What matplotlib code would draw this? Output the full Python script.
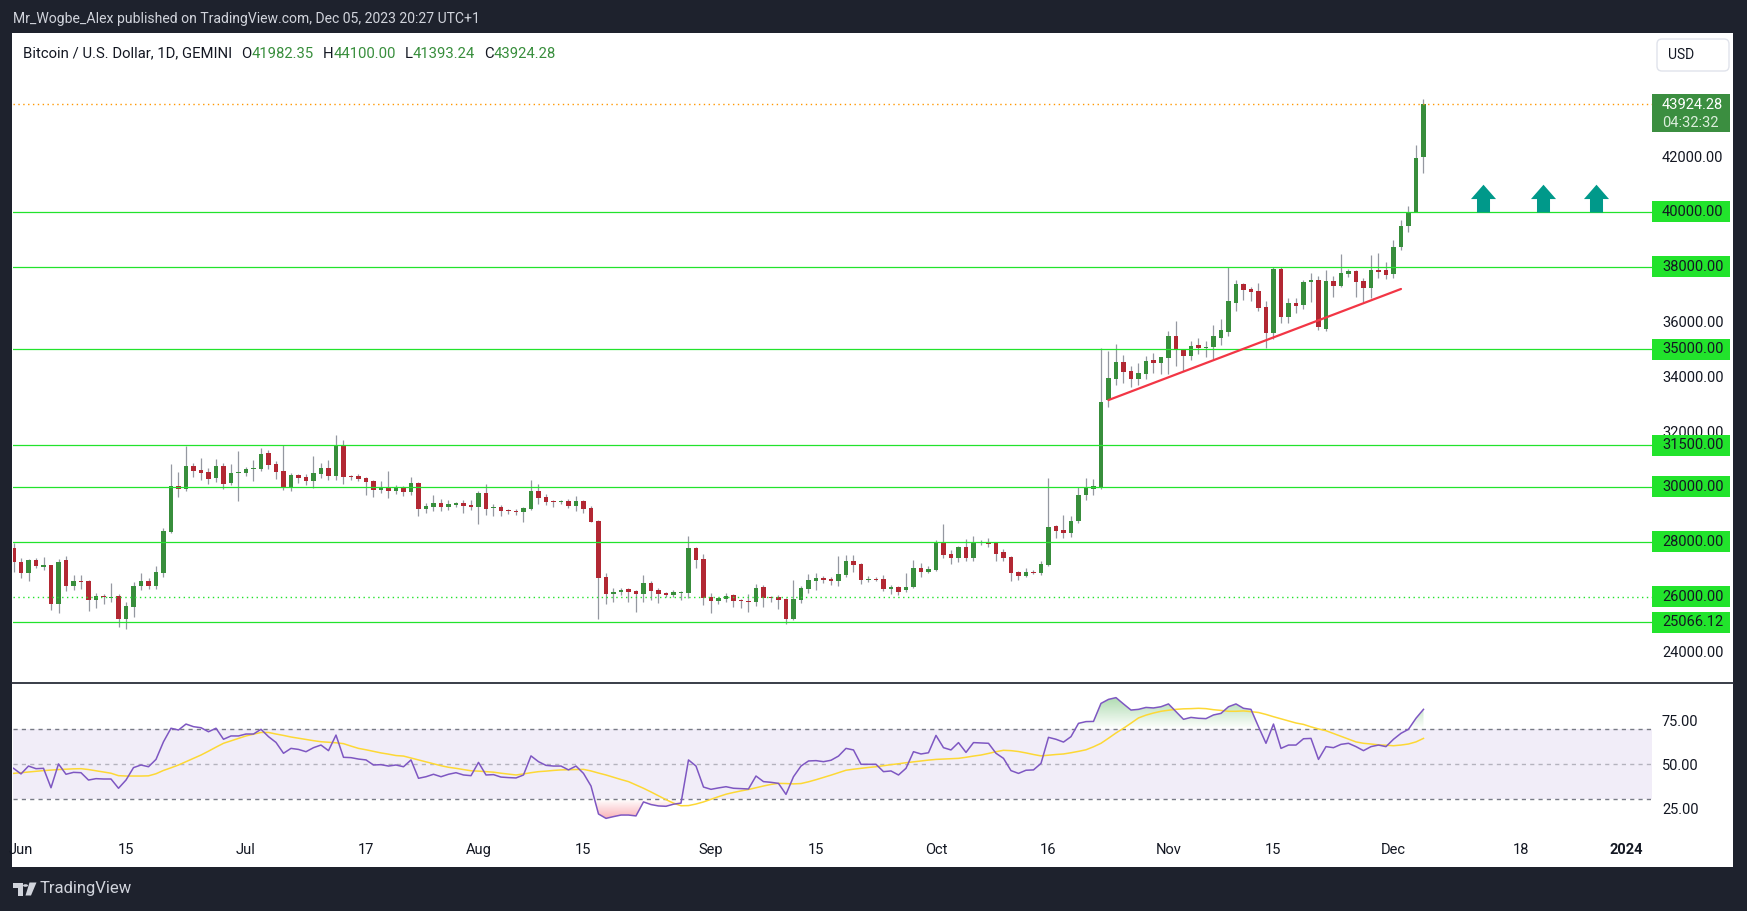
import numpy as np
import pandas as pd
import matplotlib
matplotlib.use("Agg")
import matplotlib.pyplot as plt
import matplotlib.dates as mdates
import matplotlib.transforms as mtransforms
from matplotlib.patches import Rectangle, FancyBboxPatch, Polygon, Circle
from matplotlib.path import Path
from matplotlib.lines import Line2D

plt.rcParams['font.family'] = ['Roboto', 'DejaVu Sans']

W, H = 1747, 911

# ---- data (daily candles, GEMINI BTCUSD, May 31 - Dec 5 2023) ----
dates = pd.date_range("2023-05-31", "2023-12-05", freq="D")

opens = [
    27770, 27270, 26870, 27330, 27110, 27160, 25750, 27330, 26385, 26570,
    26570, 25880, 26020, 25960, 26020, 25200, 25640, 26385, 26570, 26389,
    26873, 28364, 30036, 29915, 30752, 30606, 30533, 30303, 30752, 30133,
    30520, 30497, 30655, 30642, 31225, 30824, 30570, 29952, 30424, 30352,
    30206, 30460, 30680, 30388, 31515, 30388, 30388, 30315, 30206, 29879,
    29988, 29842, 29988, 29806, 30133, 29188, 29260, 29406, 29260, 29333,
    29406, 29333, 29260, 29770, 29224, 29260, 29150, 29115, 29079, 29188,
    29842, 29624, 29479, 29455, 29479, 29297, 29479, 29224, 28752, 26727,
    26109, 26182, 26279, 26206, 26109, 26509, 26242, 26145, 26073, 26145,
    26145, 27770, 27370, 25988, 25842, 25915, 26060, 25879, 25842, 25806,
    26352, 25988, 25988, 25915, 25188, 25879, 26279, 26570, 26679, 26642,
    26570, 26788, 27297, 27188, 26606, 26630, 26642, 26279, 26352, 26240,
    26352, 27043, 26897, 26970, 27988, 27552, 27406, 27806, 27406, 27988,
    27960, 27952, 27624, 27442, 26897, 26752, 26897, 26860, 27152, 28570,
    28424, 28315, 28752, 29697, 29915, 29990, 33153, 33917, 34535, 34210,
    33917, 34110, 34608, 34500, 34694, 35480, 34970, 34755, 35150, 35050,
    35090, 35420, 35640, 36695, 37375, 37180, 37120, 36537, 35580, 37920,
    36185, 36680, 36620, 37445, 37520, 35750, 37480, 37310, 37750, 37840,
    37480, 37240, 37860, 37880, 37750, 38730, 39490, 39980, 41982.35,
]
highs = [
    27940, 27390, 27360, 27420, 27460, 27160, 27370, 27480, 26800, 26780,
    26620, 26150, 26100, 26500, 26100, 25796, 26545, 26873, 26690, 27116,
    28485, 30825, 30533, 31479, 30873, 31040, 30690, 31000, 30870, 30840,
    31297, 30730, 30960, 31406, 31330, 30920, 31515, 30500, 30460, 30450,
    31115, 30850, 30980, 31879, 31700, 30420, 30450, 30350, 30250, 30200,
    30585, 30050, 30040, 30350, 30160, 29400, 29680, 29570, 29500, 29450,
    29500, 29500, 29850, 30097, 29370, 29340, 29180, 29190, 29270, 30242,
    30100, 29720, 29530, 29500, 29550, 29670, 29500, 29300, 28800, 26850,
    26300, 26300, 26300, 26250, 26800, 26560, 26300, 26180, 26250, 26220,
    28206, 27800, 27550, 26120, 25980, 26150, 26100, 25900, 26097, 26450,
    26420, 26030, 26050, 25940, 26606, 26380, 26830, 26870, 26760, 26700,
    27479, 27500, 27500, 27210, 26740, 26700, 26800, 26430, 26400, 26860,
    27333, 27230, 27100, 28050, 28642, 27700, 27850, 28100, 28200, 28050,
    28120, 27990, 27740, 27480, 26940, 27050, 26970, 27300, 30315, 28620,
    28980, 28920, 30000, 30300, 30280, 35033, 34936, 35189, 34800, 34400,
    34480, 34750, 34870, 34730, 35660, 36037, 35000, 35290, 35400, 35300,
    35880, 36100, 38000, 37500, 37420, 37250, 37400, 36750, 37980, 37980,
    36850, 36880, 37500, 37760, 37650, 37880, 37650, 38460, 37900, 37880,
    37590, 38424, 38500, 38180, 38970, 39700, 40200, 42425, 44100,
]
lows = [
    26910, 26690, 26580, 27030, 26960, 25530, 25420, 26200, 26230, 26270,
    25480, 25600, 25720, 25810, 24900, 24826, 25273, 26242, 26290, 26270,
    26727, 28300, 29612, 29830, 30352, 30260, 30090, 30180, 29920, 30050,
    29467, 30390, 30200, 30560, 30650, 30280, 29880, 29850, 30130, 30070,
    29950, 30300, 30240, 30250, 30100, 30250, 30200, 29698, 29624, 29760,
    29600, 29720, 29660, 29710, 28933, 29060, 29110, 29130, 29150, 29270,
    29050, 29150, 28642, 28980, 28950, 28930, 28990, 28960, 28720, 29150,
    29380, 29330, 29260, 29370, 29220, 29120, 29050, 28700, 25200, 25727,
    25800, 26050, 25820, 25455, 25800, 25870, 25780, 26000, 26000, 25880,
    25950, 27050, 25700, 25406, 25740, 25800, 25630, 25600, 25442, 25660,
    25620, 25800, 25570, 25007, 25150, 25780, 26150, 26230, 26500, 26430,
    26400, 26700, 26900, 26450, 26540, 26570, 26200, 26080, 26050, 26160,
    26300, 26700, 26850, 26950, 27400, 27180, 27260, 27300, 27300, 27880,
    27800, 27300, 27280, 26560, 26600, 26700, 26820, 26800, 27120, 28120,
    28150, 28180, 28680, 29500, 29700, 29900, 32909, 33700, 33770, 33620,
    33700, 33900, 34120, 34100, 34100, 34400, 34200, 34600, 34820, 34700,
    34650, 35150, 35480, 36380, 36800, 36750, 36390, 35055, 35360, 35950,
    35950, 36300, 36450, 36700, 35700, 35650, 36900, 37250, 37620, 36900,
    36720, 36850, 37600, 37540, 37600, 38600, 39250, 39980, 41393.24,
]
closes = [
    27270, 26870, 27330, 27110, 27120, 25750, 27270, 26385, 26570, 26540,
    25880, 26030, 25990, 25990, 25200, 25660, 26385, 26570, 26389, 26898,
    28389, 30036, 29915, 30752, 30570, 30497, 30279, 30752, 30097, 30497,
    30533, 30642, 30680, 31188, 30788, 30533, 29952, 30424, 30315, 30206,
    30497, 30680, 30388, 31515, 30352, 30352, 30279, 30170, 29879, 29988,
    29842, 29952, 29806, 30133, 29188, 29297, 29406, 29260, 29370, 29406,
    29297, 29260, 29770, 29188, 29260, 29115, 29115, 29079, 29224, 29842,
    29588, 29442, 29455, 29479, 29297, 29479, 29188, 28715, 26690, 26109,
    26182, 26255, 26182, 26109, 26509, 26218, 26109, 26073, 26170, 26182,
    27770, 27333, 25950, 25842, 25950, 26024, 25842, 25855, 25818, 26315,
    25950, 25950, 25879, 25188, 25915, 26315, 26606, 26679, 26606, 26570,
    26824, 27297, 27152, 26606, 26630, 26620, 26279, 26352, 26170, 26370,
    27043, 26897, 27006, 27988, 27515, 27406, 27806, 27406, 27988, 27960,
    27930, 27552, 27406, 26860, 26752, 26897, 26860, 27188, 28533, 28388,
    28315, 28752, 29697, 29952, 30024, 33080, 33964, 34535, 34185, 33917,
    34135, 34570, 34500, 34717, 35480, 34996, 34755, 35117, 35050, 35090,
    35480, 35700, 36755, 37375, 37157, 37085, 36500, 35604, 37920, 36185,
    36680, 36585, 37445, 37520, 35790, 37480, 37310, 37770, 37840, 37455,
    37240, 37880, 37830, 37710, 38720, 39480, 39980, 41970, 43924.28,
]

rsi = [
    47.7, 44.5, 49.0, 47.5, 47.7, 36.6, 50.2, 44.3, 45.4, 45.2,
    41.0, 41.8, 41.6, 41.6, 36.3, 41.0, 48.1, 49.6, 48.6, 52.8,
    62.9, 70.6, 69.6, 73.0, 71.5, 70.9, 68.6, 70.6, 64.3, 66.2,
    66.2, 67.3, 67.3, 70.0, 65.8, 62.5, 56.3, 59.1, 58.5, 57.2,
    59.5, 61.0, 57.8, 66.7, 54.0, 53.8, 53.0, 52.5, 49.6, 49.8,
    49.0, 49.6, 48.6, 52.5, 42.0, 42.9, 44.3, 42.9, 44.3, 45.2,
    43.9, 43.5, 51.1, 43.9, 44.1, 42.7, 42.4, 42.2, 43.9, 54.8,
    51.5, 49.4, 49.0, 49.0, 46.8, 49.0, 44.8, 37.6, 21.6, 19.1,
    20.1, 21.0, 21.0, 20.5, 28.5, 27.0, 26.2, 26.0, 27.2, 27.8,
    52.5, 49.0, 37.0, 35.7, 36.5, 37.2, 36.3, 36.1, 35.9, 43.3,
    40.1, 39.7, 39.1, 32.8, 42.9, 49.0, 51.9, 52.1, 51.5, 52.3,
    54.7, 59.1, 58.2, 50.0, 50.0, 50.0, 45.8, 46.2, 43.9, 47.7,
    57.2, 55.9, 56.6, 66.5, 59.5, 58.2, 62.4, 56.8, 62.4, 62.2,
    62.0, 56.3, 53.4, 46.4, 44.8, 46.6, 46.8, 50.5, 65.4, 64.3,
    62.7, 65.8, 73.4, 74.4, 74.5, 84.8, 87.1, 88.1, 84.5, 81.0,
    81.4, 82.5, 82.2, 82.9, 84.5, 80.1, 75.7, 76.8, 76.3, 76.1,
    78.2, 79.1, 82.9, 84.5, 82.0, 81.4, 71.5, 62.0, 73.0, 59.1,
    61.0, 61.0, 64.6, 64.8, 52.8, 60.1, 59.5, 61.4, 62.0, 60.1,
    57.8, 60.1, 61.0, 60.1, 64.3, 67.7, 70.0, 76.3, 81.4,
]
rsi_ma = [
    44.8, 45.2, 45.6, 46.0, 46.4, 46.7, 47.0, 47.2, 47.4, 47.5,
    47.0, 46.3, 45.6, 44.9, 43.5, 43.3, 43.3, 43.3, 43.4, 44.6,
    46.5, 48.0, 49.6, 51.5, 53.4, 55.3, 57.5, 59.8, 62.0, 63.4,
    64.8, 66.2, 67.2, 68.2, 68.2, 67.3, 66.5, 65.6, 64.9, 64.2,
    63.5, 62.9, 62.6, 62.3, 61.8, 60.4, 59.1, 58.3, 57.4, 56.5,
    55.8, 55.0, 54.7, 53.6, 52.5, 51.4, 50.3, 49.2, 48.3, 47.7,
    47.0, 46.3, 46.1, 45.8, 45.5, 44.9, 44.4, 43.9, 44.5, 45.2,
    45.8, 46.1, 46.5, 46.8, 46.9, 47.0, 47.1, 46.2, 45.0, 43.9,
    42.6, 41.3, 40.1, 38.2, 36.3, 34.2, 32.0, 29.8, 27.8, 26.3,
    26.4, 27.3, 28.5, 30.0, 31.5, 32.9, 33.9, 34.8, 35.6, 36.6,
    37.6, 38.5, 39.1, 39.0, 38.8, 39.0, 40.0, 41.2, 42.5, 43.8,
    45.2, 46.6, 47.2, 47.7, 48.2, 48.6, 49.2, 49.8, 50.3, 50.9,
    51.4, 51.9, 52.4, 52.8, 53.0, 53.2, 53.4, 54.0, 54.7, 55.3,
    56.2, 57.2, 58.0, 57.8, 57.3, 56.5, 55.6, 54.8, 55.2, 55.6,
    55.9, 56.6, 57.4, 58.3, 60.0, 62.0, 64.9, 67.9, 70.6, 73.5,
    76.5, 78.1, 79.3, 80.3, 80.9, 81.4, 81.7, 81.8, 82.0, 81.8,
    81.2, 80.8, 80.3, 80.3, 80.5, 80.1, 79.6, 78.5, 77.2, 76.0,
    74.8, 73.6, 72.8, 71.4, 70.2, 69.2, 67.6, 66.0, 64.4, 62.8,
    62.0, 61.6, 61.1, 60.9, 60.6, 61.0, 61.6, 62.8, 64.8,
]

levels = [40000, 38000, 35000, 31500, 30000, 28000, 25066.12]
dotted_level = 26000
last_price = 43924.28
countdown = "04:32:32"
price_ticks = [24000, 26000, 28000, 30000, 32000, 34000, 36000, 38000, 40000, 42000, 44000]
rsi_ticks = [25, 50, 75]
date_ticks = ["2023-06-01", "2023-06-15", "2023-07-01", "2023-07-17", "2023-08-01",
              "2023-08-15", "2023-09-01", "2023-09-15", "2023-10-01", "2023-10-16",
              "2023-11-01", "2023-11-15", "2023-12-01", "2023-12-18", "2024-01-01"]
date_labels = ["Jun", "15", "Jul", "17", "Aug", "15", "Sep", "15", "Oct", "16",
               "Nov", "15", "Dec", "18", "2024"]
trend_dates = ["2023-10-24", "2023-12-02"]
trend_prices = [33150, 37190]
arrow_dates = ["2023-12-13", "2023-12-21", "2023-12-28"]
arrow_price = 40000

# ---- colours ----
BG = "#1E222D"
TXT = "#131722"
GREEN = "#388E3C"
RED = "#B22833"
WICK = "#9598A1"
LEVEL = "#22E32C"
TEAL = "#00998A"

fig = plt.figure(figsize=(W / 100, H / 100), dpi=100, facecolor=BG)


def fx(px):
    return px / W


def fy(py):
    return 1 - py / H


fig.add_artist(Rectangle((fx(12), fy(867)), fx(1733) - fx(12), fy(33) - fy(867),
                         transform=fig.transFigure, facecolor="white", edgecolor="none", zorder=-1))

ax = fig.add_axes([fx(13), fy(682), fx(1652) - fx(13), fy(34) - fy(682)])
ax2 = fig.add_axes([fx(13), fy(833), fx(1652) - fx(13), fy(683) - fy(833)], sharex=ax)
for a in (ax, ax2):
    a.set_facecolor("none")
    for s in a.spines.values():
        s.set_visible(False)

x = mdates.date2num(dates)
o = np.array(opens, float)
h = np.array(highs, float)
l = np.array(lows, float)
c = np.array(closes, float)

ymin, ymax = 22898, 46462
px_per_usd = (682 - 34) / (ymax - ymin)

# candles
ax.vlines(x, l, h, color=WICK, lw=0.9, zorder=2)
body = np.abs(c - o)
min_body = 1.2 / px_per_usd
bottom = np.minimum(o, c) - np.clip(min_body - body, 0, None) / 2
ax.bar(x, np.maximum(body, min_body), bottom=bottom, width=0.66,
       color=np.where(c >= o, GREEN, RED), linewidth=0, zorder=3)

# horizontal levels
for lev in levels:
    ax.axhline(lev, color=LEVEL, lw=0.9, zorder=4)
ax.axhline(dotted_level, color=LEVEL, lw=1.0, ls=(0, (1, 2.5)), zorder=4)
ax.axhline(last_price, color="#FF9800", lw=1.0, ls=(0, (1, 2.5)), zorder=4)

# trend line and arrows
ax.plot(mdates.date2num(pd.to_datetime(trend_dates)), trend_prices,
        color="#F23645", lw=1.6, zorder=5, solid_capstyle="round")
arrow = Path([(-6.5, 0), (6.5, 0), (6.5, 13.4), (12.5, 13.4), (0, 27.7),
              (-12.5, 13.4), (-6.5, 13.4), (-6.5, 0)])
ax.plot(mdates.date2num(pd.to_datetime(arrow_dates)), [arrow_price] * len(arrow_dates),
        ls="none", marker=arrow, ms=40, color=TEAL, mew=0, zorder=5)

# price scale labels
trans = mtransforms.blended_transform_factory(ax.transAxes, ax.transData)
ax_w = 1652 - 13
bw = 78 / ax_w
bh = 21 / px_per_usd
for lev in levels + [dotted_level]:
    ax.add_patch(Rectangle((1, lev - bh / 2), bw, bh, transform=trans, facecolor=LEVEL,
                           edgecolor="none", clip_on=False, zorder=6))
    ax.text(1 + 10 / ax_w, lev, f"{lev:.2f}", transform=trans, va="center", ha="left",
            fontsize=10.5, color=TXT, zorder=7, clip_on=False)

ax.add_patch(Rectangle((1, last_price - 28 / px_per_usd), bw, 38 / px_per_usd, transform=trans,
                       facecolor="#3B8E40", edgecolor="none", clip_on=False, zorder=6))
ax.text(1 + 10 / ax_w, last_price - 1 / px_per_usd, f"{last_price:.2f}", transform=trans,
        va="center", ha="left", fontsize=10.5, color="white", zorder=7, clip_on=False)
ax.text(1 + 10 / ax_w, last_price - 19 / px_per_usd, countdown, transform=trans,
        va="center", ha="left", fontsize=10.5, color="#DCEEDC", zorder=7, clip_on=False)

ax.yaxis.tick_right()
ax.set_yticks(price_ticks)
ax.set_yticklabels([f"{t:.2f}" for t in price_ticks])
ax.tick_params(axis="y", length=0, pad=7.2, labelsize=10.5, labelcolor=TXT)
ax.tick_params(axis="x", length=0, labelbottom=False)
ax.set_ylim(ymin, ymax)

# ---- RSI pane ----
r = np.array(rsi)
ax2.axhspan(30, 70, color="#7E57C2", alpha=0.1, lw=0, zorder=0)
ax2.axhline(70, color="#787B86", lw=1.0, ls=(0, (3, 3)), zorder=1)
ax2.axhline(50, color="#787B86", lw=1.0, ls=(0, (3, 3)), alpha=0.5, zorder=1)
ax2.axhline(30, color="#787B86", lw=1.0, ls=(0, (3, 3)), zorder=1)

ob = ax2.fill_between(x, r, 70, where=r > 70, interpolate=True, facecolor="none", edgecolor="none")
grad = np.zeros((100, 1, 4))
grad[..., 0], grad[..., 1], grad[..., 2] = 76 / 255, 175 / 255, 80 / 255
grad[:, 0, 3] = np.linspace(0, 0.55, 100)
im = ax2.imshow(grad, extent=[x[0], x[-1], 70, 92], origin="lower", aspect="auto", zorder=2)
im.set_clip_path(Path.make_compound_path(*ob.get_paths()), ax2.transData)

os_ = ax2.fill_between(x, r, 30, where=r < 30, interpolate=True, facecolor="none", edgecolor="none")
grad2 = np.zeros((100, 1, 4))
grad2[..., 0], grad2[..., 1], grad2[..., 2] = 242 / 255, 54 / 255, 69 / 255
grad2[:, 0, 3] = np.linspace(0.55, 0, 100)
im2 = ax2.imshow(grad2, extent=[x[0], x[-1], 14, 30], origin="lower", aspect="auto", zorder=2)
im2.set_clip_path(Path.make_compound_path(*os_.get_paths()), ax2.transData)

ax2.plot(x, rsi_ma, color="#FDD835", lw=1.1, zorder=3)
ax2.plot(x, r, color="#7E57C2", lw=1.1, zorder=4)

ax2.yaxis.tick_right()
ax2.set_yticks(rsi_ticks)
ax2.set_yticklabels([f"{t:.2f}" for t in rsi_ticks])
ax2.tick_params(axis="y", length=0, pad=7.2, labelsize=10.5, labelcolor=TXT)
ax2.set_ylim(10.74, 96.46)

ax2.set_xticks(mdates.date2num(pd.to_datetime(date_ticks)))
ax2.set_xticklabels(date_labels)
ax2.tick_params(axis="x", length=0, pad=7, labelsize=10.5, labelcolor=TXT)
ax2.get_xticklabels()[-1].set_fontweight("bold")

x_ref = mdates.date2num(pd.Timestamp("2023-06-15"))
ax.set_xlim(x_ref - 15.067, x_ref + 203.47)

# separator between panes
fig.add_artist(Line2D([fx(12), fx(1733)], [fy(682.5)] * 2, transform=fig.transFigure,
                      color="#2A2E39", lw=1.3))

# currency box
fig.add_artist(FancyBboxPatch((1657, H - 71), 72, 32, boxstyle="round,pad=0,rounding_size=5",
                              transform=mtransforms.IdentityTransform(), facecolor="white",
                              edgecolor="#E0E3EB", lw=1))
fig.text(fx(1668), fy(55), "USD", color=TXT, fontsize=10, va="center", ha="left")

# top caption and legend line
fig.text(fx(13), fy(19), "Mr_Wogbe_Alex published on TradingView.com, Dec 05, 2023 20:27 UTC+1",
         color="#D1D4DC", fontsize=10.1, va="center", ha="left")

renderer = fig.canvas.get_renderer()
parts = [("Bitcoin / U.S. Dollar, 1D, GEMINI", TXT, 9), ("O", TXT, 0), ("41982.35", GREEN, 9),
         ("H", TXT, 0), ("44100.00", GREEN, 9), ("L", TXT, 0), ("41393.24", GREEN, 9),
         ("C", TXT, 0), ("43924.28", GREEN, 0)]
xpos = 23
for txt, col, gap in parts:
    t = fig.text(fx(xpos), fy(53.5), txt, color=col, fontsize=10.7, va="center", ha="left")
    xpos += t.get_window_extent(renderer).width + gap

# TradingView logo at the bottom
fig.add_artist(Polygon([(fx(13), fy(882.5)), (fx(22.5), fy(882.5)), (fx(22.5), fy(895.5)),
                        (fx(17.5), fy(895.5)), (fx(17.5), fy(887.5)), (fx(13), fy(887.5))],
                       closed=True, transform=fig.transFigure, facecolor="#D1D4DC", edgecolor="none"))
fig.add_artist(Circle((fx(25.5), fy(885.5)), fx(2.5), transform=fig.transFigure,
                      facecolor="#D1D4DC", edgecolor="none"))
fig.add_artist(Polygon([(fx(29.5), fy(882.5)), (fx(36.5), fy(882.5)), (fx(31), fy(895.5)), (fx(25.5), fy(895.5))],
                       closed=True, transform=fig.transFigure, facecolor="#D1D4DC", edgecolor="none"))
fig.text(fx(40), fy(889), "TradingView", color="#D1D4DC", fontsize=12, va="center", ha="left")

fig.savefig("out.png", dpi=100, facecolor=BG)
